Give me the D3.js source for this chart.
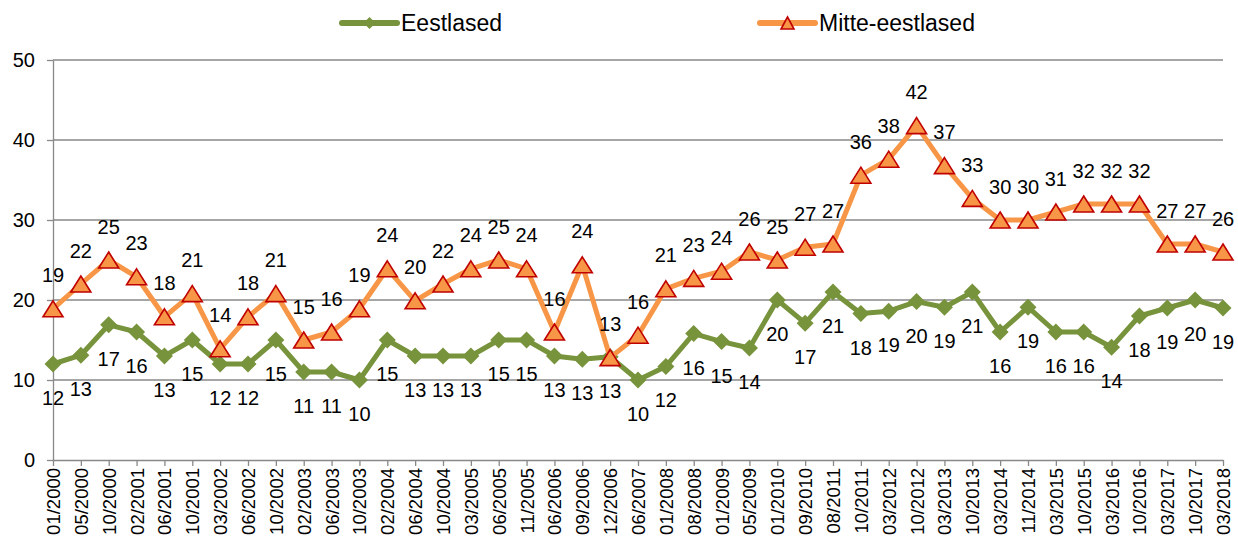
<!DOCTYPE html>
<html>
<head>
<meta charset="utf-8">
<script src="https://cdn.jsdelivr.net/npm/d3@7"></script>
<style>
  html, body { margin: 0; padding: 0; background: #fff; }
  svg { display: block; font-family: "Liberation Sans", Arial, sans-serif; }
</style>
</head>
<body>
<svg id="chart" width="1238" height="538"></svg>
<script>
const categories = ["01/2000","05/2000","10/2000","02/2001","06/2001","10/2001","03/2002","06/2002","10/2002","02/2003","06/2003","10/2003","02/2004","06/2004","10/2004","03/2005","06/2005","11/2005","06/2006","09/2006","12/2006","06/2007","01/2008","08/2008","01/2009","05/2009","01/2010","09/2010","08/2011","10/2011","03/2012","10/2012","03/2013","10/2013","03/2014","11/2014","03/2015","10/2015","03/2016","10/2016","03/2017","10/2017","03/2018"];
const eestlased = [12,13.1,16.9,16,13,15,12,12,15,11,11,10,15,13,13,13,15,15,13,12.6,12.9,10,11.7,15.8,14.8,14,20,17.1,21,18.3,18.6,19.8,19.1,21,16,19.1,16,16,14.1,18,19,20,19];
const mitteEestlased = [18.9,22,25,22.9,17.9,20.8,13.9,17.9,20.8,15,16,18.9,23.9,19.9,22,23.9,25,23.9,16,24.4,12.8,15.6,21.4,22.7,23.6,26,25,26.6,27,35.6,37.6,41.8,36.8,32.7,30,30,31,32,32,32,27,27,26];
const yTicks = [0,10,20,30,40,50];
const seriesNames = ["Eestlased","Mitte-eestlased"];

const green = "#77933C", orange = "#F79646", darkRed = "#C00000", gridCol = "#898989";

const svg = d3.select("#chart");
const x = d3.scalePoint().domain(categories).range([53, 1223]).padding(0);
const y = d3.scaleLinear().domain([0, 50]).range([460, 60]);

// gridlines
svg.append("g").selectAll("line").data(yTicks.filter(d => d > 0)).join("line")
  .attr("x1", 53).attr("x2", 1223)
  .attr("y1", d => y(d)).attr("y2", d => y(d))
  .attr("stroke", gridCol).attr("stroke-width", 1.3);

// y axis
const yAxis = svg.append("g").attr("transform", "translate(53,0)")
  .call(d3.axisLeft(y).tickValues(yTicks).tickSize(6).tickSizeOuter(0).tickPadding(12));
yAxis.select(".domain").attr("stroke", gridCol).attr("stroke-width", 1.3);
yAxis.selectAll(".tick line").attr("stroke", gridCol).attr("stroke-width", 1.3);
yAxis.selectAll(".tick text").attr("font-size", 20).attr("fill", "#000")
  .attr("font-family", "Liberation Sans, Arial, sans-serif");

// x axis
const xAxis = svg.append("g").attr("transform", "translate(0,460)")
  .call(d3.axisBottom(x).tickSize(6).tickSizeOuter(0));
xAxis.select(".domain").attr("stroke", gridCol).attr("stroke-width", 1.3);
xAxis.selectAll(".tick line").attr("stroke", gridCol).attr("stroke-width", 1.3);
xAxis.selectAll(".tick text")
  .attr("font-size", 18.5).attr("fill", "#000")
  .attr("font-family", "Liberation Sans, Arial, sans-serif")
  .attr("transform", "rotate(-90)")
  .attr("text-anchor", "end")
  .attr("x", -8).attr("y", 0).attr("dy", "0.35em");

const line = d3.line().x((d, i) => x(categories[i])).y(d => y(d));

// green series
svg.append("path").datum(eestlased).attr("d", line)
  .attr("fill", "none").attr("stroke", green).attr("stroke-width", 5)
  .attr("stroke-linejoin", "round");
const diamond = (s) => `M0,${-s}L${s},0L0,${s}L${-s},0Z`;
svg.append("g").selectAll("path").data(eestlased).join("path")
  .attr("transform", (d, i) => `translate(${x(categories[i])},${y(d)})`)
  .attr("d", diamond(8.5)).attr("fill", green);

// orange series
svg.append("path").datum(mitteEestlased).attr("d", line)
  .attr("fill", "none").attr("stroke", orange).attr("stroke-width", 5)
  .attr("stroke-linejoin", "round");
const tri = (w, h) => `M0,${-h/2}L${w/2},${h/2}L${-w/2},${h/2}Z`;
svg.append("g").selectAll("path").data(mitteEestlased).join("path")
  .attr("transform", (d, i) => `translate(${x(categories[i])},${y(d)})`)
  .attr("d", tri(20, 16)).attr("fill", orange)
  .attr("stroke", darkRed).attr("stroke-width", 1.6).attr("stroke-linejoin", "miter");

// data labels
svg.append("g").selectAll("text").data(eestlased).join("text")
  .attr("x", (d, i) => x(categories[i])).attr("y", d => y(d) + 41)
  .attr("text-anchor", "middle").attr("font-size", 20).attr("fill", "#000")
  .text(d => Math.round(d));
svg.append("g").selectAll("text").data(mitteEestlased).join("text")
  .attr("x", (d, i) => x(categories[i])).attr("y", d => y(d) - 26.5)
  .attr("text-anchor", "middle").attr("font-size", 20).attr("fill", "#000")
  .text(d => Math.round(d));

// legend
const leg = svg.append("g");
const legItems = [
  {name: seriesNames[0], x0: 342, color: green, marker: "d"},
  {name: seriesNames[1], x0: 760, color: orange, marker: "t"}
];
legItems.forEach(it => {
  const g = leg.append("g").attr("transform", `translate(${it.x0},23)`);
  g.append("line").attr("x1", 0).attr("x2", 55).attr("y1", 0).attr("y2", 0)
    .attr("stroke", it.color).attr("stroke-width", 6).attr("stroke-linecap", "round");
  if (it.marker === "d") {
    g.append("path").attr("transform", "translate(27.5,0)").attr("d", diamond(6)).attr("fill", it.color);
  } else {
    g.append("path").attr("transform", "translate(27.5,0)").attr("d", tri(13, 12))
      .attr("fill", orange).attr("stroke", darkRed).attr("stroke-width", 1.6);
  }
  g.append("text").attr("x", 59).attr("y", 8).attr("font-size", 23).attr("fill", "#000")
    .text(it.name);
});
</script>
</body>
</html>
